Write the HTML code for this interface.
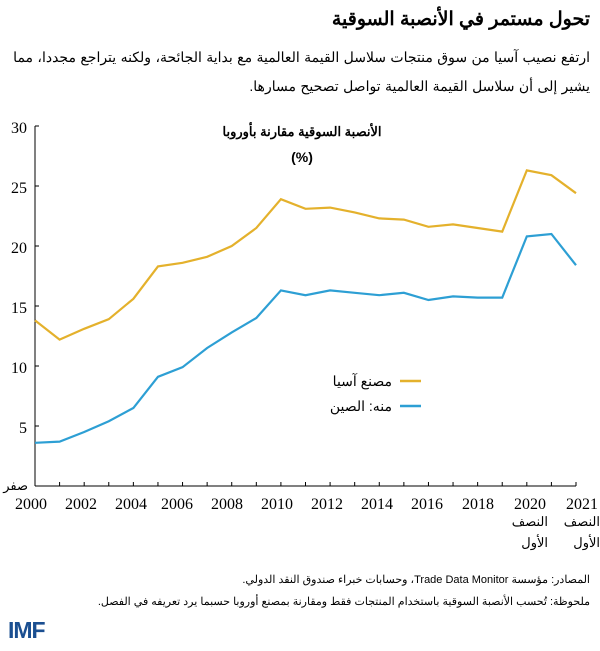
<!DOCTYPE html>
<html><head><meta charset="utf-8"><style>
body{margin:0;background:#fff;width:600px;height:651px;overflow:hidden;font-family:"Liberation Sans","Noto Sans CJK SC",sans-serif;position:relative;}
.t{position:absolute;direction:rtl;color:#000;white-space:nowrap;}
</style></head><body>
<svg width="600" height="651" style="position:absolute;left:0;top:0" font-family="Liberation Serif, serif">
<g font-size="16" fill="#000" text-anchor="end">
<text x="27" y="133">30</text><text x="27" y="193">25</text><text x="27" y="253">20</text><text x="27" y="313">15</text><text x="27" y="373">10</text><text x="27" y="433">5</text>
</g>
<g stroke="#000" stroke-width="1">
<line x1="35" y1="126" x2="35" y2="486"/><line x1="35" y1="486" x2="576" y2="486"/>
<line x1="35" y1="126" x2="39" y2="126"/><line x1="35" y1="186" x2="39" y2="186"/><line x1="35" y1="246" x2="39" y2="246"/><line x1="35" y1="306" x2="39" y2="306"/><line x1="35" y1="366" x2="39" y2="366"/><line x1="35" y1="426" x2="39" y2="426"/>
</g>
<g id="ticks" stroke="#000"></g>
<g font-size="16" text-anchor="middle">
<text x="31" y="509">2000</text><text x="81" y="509">2002</text><text x="131" y="509">2004</text><text x="177" y="509">2006</text><text x="227" y="509">2008</text><text x="277" y="509">2010</text><text x="327" y="509">2012</text><text x="377" y="509">2014</text><text x="427" y="509">2016</text><text x="478" y="509">2018</text><text x="530" y="509">2020</text><text x="582" y="509">2021</text>
</g>
<polyline id="a" fill="none" stroke="#e4b12c" stroke-width="2.2"/>
<polyline id="c" fill="none" stroke="#2d9fd4" stroke-width="2.2"/>
<line x1="400" y1="381" x2="421" y2="381" stroke="#e4b12c" stroke-width="2.5"/>
<line x1="400" y1="406" x2="421" y2="406" stroke="#2d9fd4" stroke-width="2.5"/>
<text x="8" y="638" font-size="23" font-weight="bold" fill="#1b4f91" font-family="Liberation Sans, sans-serif" letter-spacing="-1">IMF</text>
</svg>
<div class="t" style="right:10px;top:8px;font-size:19px;font-weight:bold;">تحول مستمر في الأنصبة السوقية</div>
<div class="t" style="right:10px;top:43px;font-size:14px;word-spacing:0.5px;line-height:29px;text-align:right;">ارتفع نصيب آسيا من سوق منتجات سلاسل القيمة العالمية مع بداية الجائحة، ولكنه يتراجع مجددا، مما<br>يشير إلى أن سلاسل القيمة العالمية تواصل تصحيح مسارها.</div>
<div class="t" style="left:200px;width:204px;text-align:center;top:124px;font-size:13px;font-weight:bold;">الأنصبة السوقية مقارنة بأوروبا</div>
<div class="t" style="left:200px;width:204px;text-align:center;top:149px;font-size:14px;font-weight:bold;direction:ltr;">(%)</div>
<div class="t" style="right:208px;top:373px;font-size:14px;">مصنع آسيا</div>
<div class="t" style="right:208px;top:398px;font-size:14px;">منه: الصين</div>
<div class="t" style="right:572px;top:478px;font-size:13px;">صفر</div>
<div class="t" style="right:52px;top:514px;font-size:13px;">النصف</div>
<div class="t" style="right:52px;top:535px;font-size:13px;">الأول</div>
<div class="t" style="right:0px;top:514px;font-size:13px;">النصف</div>
<div class="t" style="right:0px;top:535px;font-size:13px;">الأول</div>
<div class="t" style="right:10px;top:573px;font-size:11px;">المصادر: مؤسسة Trade Data Monitor، وحسابات خبراء صندوق النقد الدولي.</div>
<div class="t" style="right:10px;top:595px;font-size:11px;">ملحوظة: تُحسب الأنصبة السوقية باستخدام المنتجات فقط ومقارنة بمصنع أوروبا حسبما يرد تعريفه في الفصل.</div>
<script>
var A=[13.8,12.2,13.1,13.9,15.6,18.3,18.6,19.1,20.0,21.5,23.9,23.1,23.2,22.8,22.3,22.2,21.6,21.8,21.5,21.2,26.3,25.9,24.4];
var C=[3.6,3.7,4.5,5.4,6.5,9.1,9.9,11.5,12.8,14.0,16.3,15.9,16.3,16.1,15.9,16.1,15.5,15.8,15.7,15.7,20.8,21.0,18.4];
function X(i){return 35+i*541/22;}function Y(v){return 486-v*12;}
document.getElementById('a').setAttribute('points',A.map((v,i)=>X(i)+','+Y(v)).join(' '));
document.getElementById('c').setAttribute('points',C.map((v,i)=>X(i)+','+Y(v)).join(' '));
var s='';for(var i=0;i<=22;i++){s+='<line x1="'+X(i)+'" y1="486" x2="'+X(i)+'" y2="482"/>';}
document.getElementById('ticks').innerHTML=s;
</script>
</body></html>
